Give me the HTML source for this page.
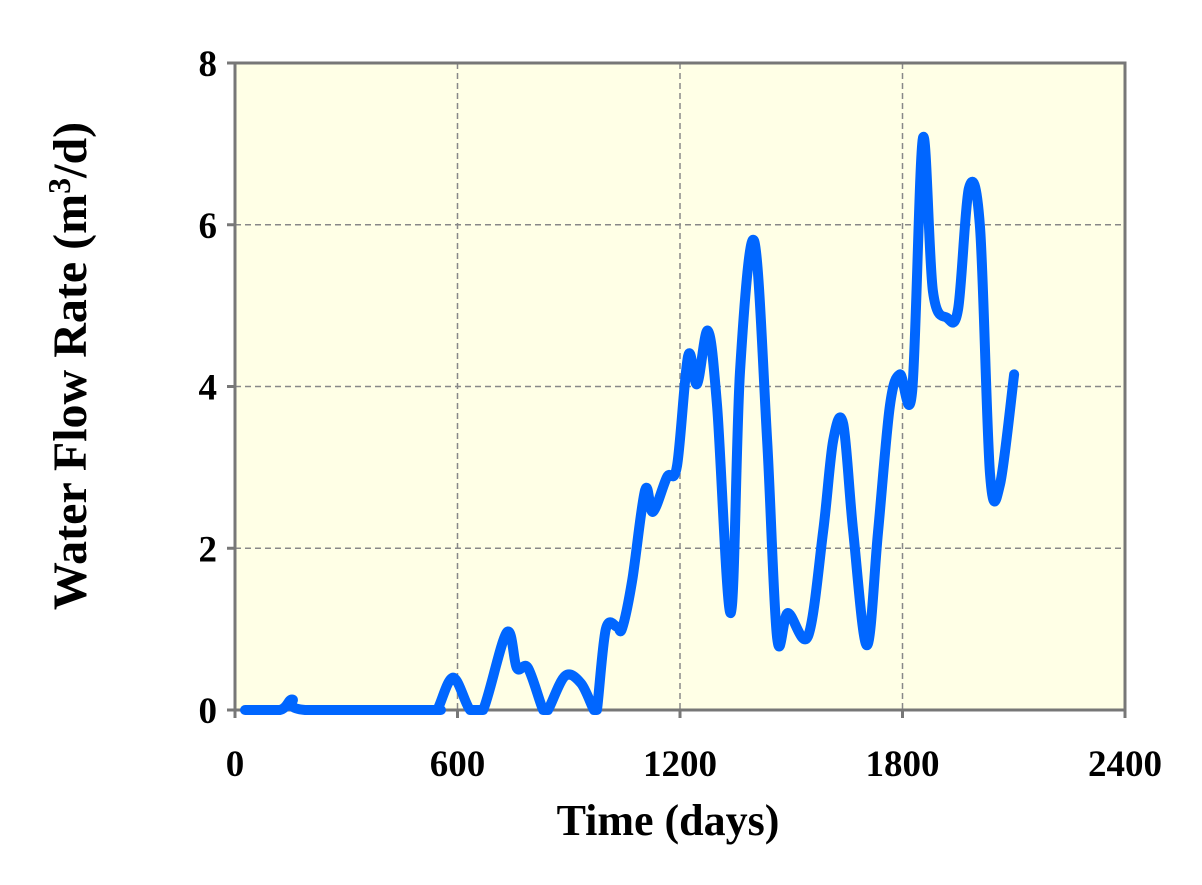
<!DOCTYPE html>
<html><head><meta charset="utf-8"><style>
body{margin:0;background:#fff;}
svg text{font-family:"Liberation Serif",serif;font-weight:bold;fill:#000;}
</style></head><body>
<svg width="1202" height="880" viewBox="0 0 1202 880">
<g id="chart"></g>
</svg>
<script>
const days=[27,121,154,189,526,545,588,634,669,733,760,790,831,844,890,933,968,976,1000,1030,1044,1071,1106,1127,1165,1192,1222,1246,1275,1300,1337,1362,1400,1435,1462,1491,1545,1586,1613,1640,1667,1704,1734,1766,1793,1826,1855,1882,1920,1950,1979,2009,2036,2063,2101];
const flow=[0,0,0.13,0,0,0,0.4,0,0,0.96,0.52,0.52,0,0,0.42,0.33,0,0,1.0,1.03,1.01,1.6,2.72,2.45,2.88,3.02,4.38,4.03,4.69,3.76,1.2,4.2,5.8,3.33,0.89,1.2,0.91,2.21,3.33,3.54,2.21,0.8,2.2,3.76,4.15,3.94,7.07,5.18,4.85,4.96,6.45,5.97,2.92,2.79,4.15];
const xTicks=[0,600,1200,1800,2400];
const yTicks=[0,2,4,6,8];
const NS='http://www.w3.org/2000/svg';
const L=235,R=1125,T=63,B=710;
const xs=d=>L+(d/2400)*(R-L);
const ys=v=>B-(v/8)*(B-T);
const g=document.getElementById('chart');
function mk(tag,attrs){const e=document.createElementNS(NS,tag);for(const k in attrs)e.setAttribute(k,attrs[k]);g.appendChild(e);return e;}
const bg=mk('rect',{x:L,y:T,width:R-L,height:B-T,fill:'#ffffe6'});


xTicks.forEach((t,i)=>{
  if(i>0&&i<xTicks.length-1){const l=mk('line',{x1:xs(t),x2:xs(t),y1:T,y2:B,stroke:'#888','stroke-width':1.5,'stroke-dasharray':'6,4'});
  
  }
  const tk=mk('line',{x1:xs(t),x2:xs(t),y1:B,y2:B+8,stroke:'#777','stroke-width':3});
  
  
  const tx=mk('text',{x:xs(t),y:B+66,'text-anchor':'middle','font-size':37});
  tx.textContent=t;
  
  
});
yTicks.forEach((t,i)=>{
  if(i>0&&i<yTicks.length-1){const l=mk('line',{x1:L,x2:R,y1:ys(t),y2:ys(t),stroke:'#888','stroke-width':1.5,'stroke-dasharray':'6,4'});
  
  }
  const tk=mk('line',{x1:L-8,x2:L,y1:ys(t),y2:ys(t),stroke:'#777','stroke-width':3});
  
  
  const tx=mk('text',{x:L-18,y:ys(t)+13,'text-anchor':'end','font-size':37});
  tx.textContent=t;
  
  
});
const fr=mk('rect',{x:L,y:T,width:R-L,height:B-T,fill:'none',stroke:'#777','stroke-width':3});


const P=days.map((d,i)=>[xs(d),ys(flow[i])]);
let dstr='M'+P[0][0]+','+P[0][1];
for(let i=0;i<P.length-1;i++){
  const p0=P[Math.max(0,i-1)],p1=P[i],p2=P[i+1],p3=P[Math.min(P.length-1,i+2)];
  const c1=[p1[0]+(p2[0]-p0[0])/6,p1[1]+(p2[1]-p0[1])/6];
  const c2=[p2[0]-(p3[0]-p1[0])/6,p2[1]-(p3[1]-p1[1])/6];
  dstr+=' C'+c1[0]+','+Math.min(c1[1],B)+' '+c2[0]+','+Math.min(c2[1],B)+' '+p2[0]+','+p2[1];
}
const line=mk('path',{d:dstr,fill:'none',stroke:'#0066ff','stroke-width':10,'stroke-linejoin':'round','stroke-linecap':'round'});


const xt=mk('text',{x:(L+R)/2-12,y:835,'text-anchor':'middle','font-size':44});
xt.textContent='Time (days)';


const yt=mk('text',{x:0,y:0,'text-anchor':'middle','font-size':48,transform:'translate(86,366) rotate(-90)'});
yt.innerHTML='Water Flow Rate (m<tspan dy="-16" font-size="32">3</tspan><tspan dy="16">/d)</tspan>';


</script>
</body></html>
